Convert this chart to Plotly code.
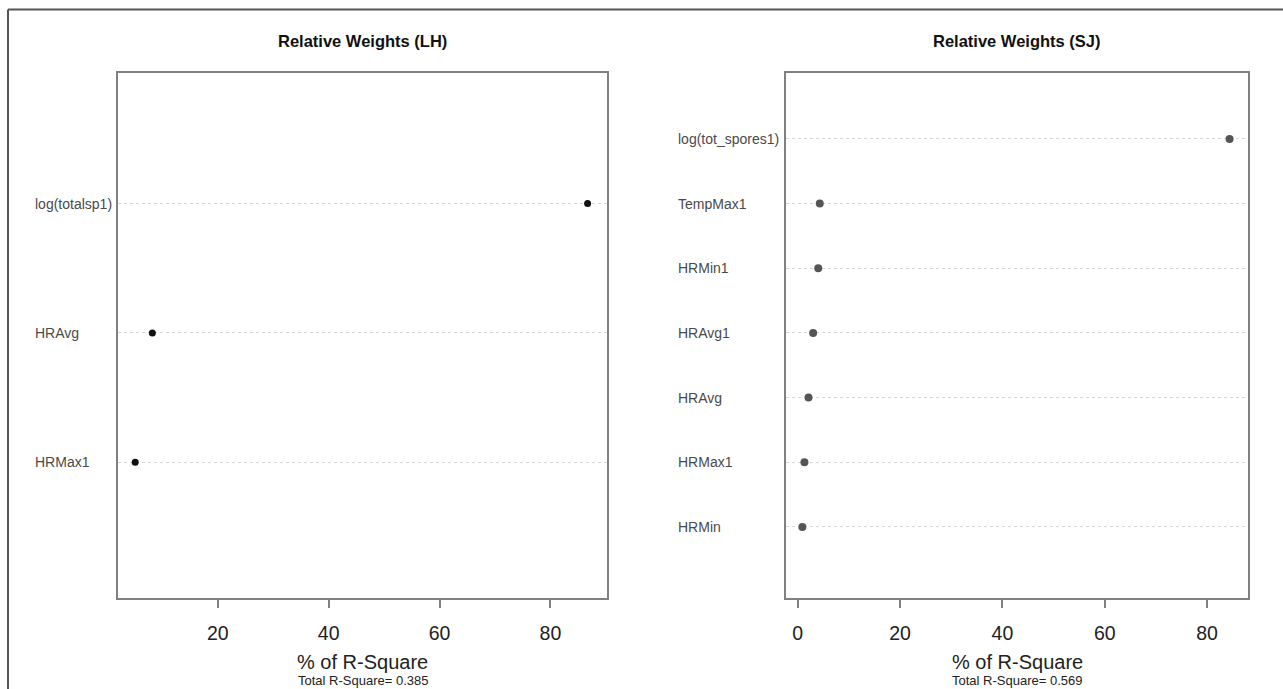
import plotly.graph_objects as go

# ---- data ----
lh_vars = ["HRMax1", "HRAvg", "log(totalsp1)"]
lh_vals = [5.1, 8.2, 86.7]
lh_total = "Total R-Square= 0.385"

sj_vars = ["HRMin", "HRMax1", "HRAvg", "HRAvg1", "HRMin1", "TempMax1", "log(tot_spores1)"]
sj_vals = [0.9, 1.3, 2.1, 3.0, 4.0, 4.3, 84.4]
sj_total = "Total R-Square= 0.569"

titles = ["Relative Weights (LH)", "Relative Weights (SJ)"]
xlabel = "% of R-Square"
lh_ticks = [20, 40, 60, 80]
sj_ticks = [0, 20, 40, 60, 80]

W, H = 1283, 689
FONT = "Liberation Sans, Arial, sans-serif"


def px(x):
    return x / W


def py(y):
    return 1 - y / H


fig = go.Figure()

lh_pos = list(range(1, len(lh_vars) + 1))
sj_pos = list(range(1, len(sj_vars) + 1))

fig.add_trace(go.Scatter(x=lh_vals, y=lh_pos, mode="markers", xaxis="x", yaxis="y",
                         marker=dict(color="#111111", size=7), showlegend=False,
                         hoverinfo="x"))
fig.add_trace(go.Scatter(x=sj_vals, y=sj_pos, mode="markers", xaxis="x2", yaxis="y2",
                         marker=dict(color="#555555", size=8), showlegend=False,
                         hoverinfo="x"))

box_top = 73
box_bot = 598
ydom = [py(box_bot), py(box_top)]

common_x = dict(showline=True, linecolor="#808080", linewidth=1.5, mirror=True,
                ticks="outside", ticklen=8, tickwidth=1.5, tickcolor="#808080",
                showgrid=False, zeroline=False, ticklabelstandoff=9,
                tickfont=dict(family=FONT, size=19.5, color="#222222"),
                automargin=False, fixedrange=True)
common_y = dict(showline=True, linecolor="#808080", linewidth=1.5, mirror=True,
                ticks="", showticklabels=False, showgrid=True, gridcolor="#d6d6d6",
                griddash="dot", gridwidth=1, zeroline=False, automargin=False,
                fixedrange=True)

fig.update_layout(
    width=W, height=H,
    margin=dict(l=0, r=0, t=0, b=0),
    paper_bgcolor="white", plot_bgcolor="white",
    xaxis=dict(domain=[px(118), px(607)], range=[2.0, 90.2], tickvals=lh_ticks,
               anchor="y", **common_x),
    yaxis=dict(domain=ydom, range=[-0.05, 4.01], tickvals=lh_pos, anchor="x", **common_y),
    xaxis2=dict(domain=[px(786), px(1248)], range=[-2.3, 88.0], tickvals=sj_ticks,
                anchor="y2", **common_x),
    yaxis2=dict(domain=ydom, range=[-0.1, 8.02], tickvals=sj_pos, anchor="x2", **common_y),
)

ann = []
# titles
for cx, t in [((118 + 607) / 2, titles[0]), ((786 + 1248) / 2, titles[1])]:
    ann.append(dict(text="<b>%s</b>" % t, x=px(cx), y=py(41), xref="paper", yref="paper",
                    showarrow=False, xanchor="center", yanchor="middle",
                    font=dict(family=FONT, size=16.5, color="#111111")))
    ann.append(dict(text=xlabel, x=px(cx), y=py(662), xref="paper", yref="paper",
                    showarrow=False, xanchor="center", yanchor="middle",
                    font=dict(family=FONT, size=20, color="#222222")))
ann.append(dict(text=lh_total, x=px((118 + 607) / 2), y=py(680), xref="paper", yref="paper",
                showarrow=False, xanchor="center", yanchor="middle",
                font=dict(family=FONT, size=13, color="#222222")))
ann.append(dict(text=sj_total, x=px((786 + 1248) / 2), y=py(680), xref="paper", yref="paper",
                showarrow=False, xanchor="center", yanchor="middle",
                font=dict(family=FONT, size=13, color="#222222")))

# category labels (left aligned, as in R dotchart)
for v, p in zip(lh_vars, lh_pos):
    ann.append(dict(text=v, x=px(33), y=p, xref="paper", yref="y", showarrow=False,
                    xanchor="left", yanchor="middle",
                    font=dict(family=FONT, size=14, color="#4a4a4a")))
for v, p in zip(sj_vars, sj_pos):
    ann.append(dict(text=v, x=px(676), y=p, xref="paper", yref="y2", showarrow=False,
                    xanchor="left", yanchor="middle",
                    font=dict(family=FONT, size=14, color="#4a4a4a")))

fig.update_layout(annotations=ann)

# outer frame (top and left edges)
fig.add_shape(type="line", xref="paper", yref="paper", x0=px(8), x1=1, y0=py(9.5), y1=py(9.5),
              line=dict(color="#555555", width=2))
fig.add_shape(type="line", xref="paper", yref="paper", x0=px(8), x1=px(8), y0=py(9.5), y1=0,
              line=dict(color="#555555", width=2))

fig.write_html("out.html", config={"displayModeBar": False},
               post_script="document.body.style.margin='0';document.body.style.overflow='hidden';")
